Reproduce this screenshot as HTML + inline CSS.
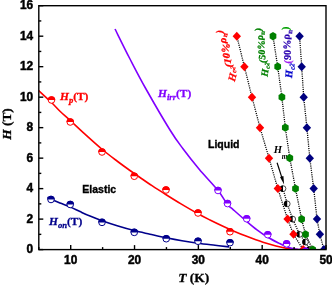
<!DOCTYPE html><html><head><meta charset="utf-8"><style>html,body{margin:0;padding:0;background:#fff}svg{display:block}text{font-family:"Liberation Sans",sans-serif}.s{font-family:"Liberation Serif",serif;font-weight:bold}</style></head><body>
<svg width="332" height="285" viewBox="0 0 332 285">
<rect width="332" height="285" fill="#fff"/>
<defs><clipPath id="cp"><rect x="38.8" y="5.7" width="287.2" height="243.9"/></clipPath></defs>
<g clip-path="url(#cp)">
<text class="s" style="will-change:transform" x="273.8" y="153.2" font-size="10.6" fill="#000"><tspan font-style="italic">H</tspan><tspan font-style="italic" font-size="7.2" dx="-0.4" dy="5.5">m</tspan></text>
<polyline points="283.0,188.6 287.2,203.9 292.7,219.1 299.6,234.4 305.5,242.0 309.5,249.6" fill="none" stroke="#000" stroke-width="1.3" stroke-dasharray="1.1,1.1"/>
<circle cx="283.00" cy="188.62" r="2.90" fill="#fff" stroke="#000" stroke-width="0.7"/><path d="M283.00,185.38 A3.25,3.25 0 0 0 283.00,191.88 Z" fill="#000"/>
<circle cx="287.20" cy="203.87" r="2.90" fill="#fff" stroke="#000" stroke-width="0.7"/><path d="M287.20,200.62 A3.25,3.25 0 0 0 287.20,207.12 Z" fill="#000"/>
<circle cx="292.70" cy="219.11" r="2.90" fill="#fff" stroke="#000" stroke-width="0.7"/><path d="M292.70,215.86 A3.25,3.25 0 0 0 292.70,222.36 Z" fill="#000"/>
<circle cx="299.60" cy="234.36" r="2.90" fill="#fff" stroke="#000" stroke-width="0.7"/><path d="M299.60,231.11 A3.25,3.25 0 0 0 299.60,237.61 Z" fill="#000"/>
<circle cx="305.50" cy="241.98" r="2.90" fill="#fff" stroke="#000" stroke-width="0.7"/><path d="M305.50,238.73 A3.25,3.25 0 0 0 305.50,245.23 Z" fill="#000"/>
<circle cx="309.50" cy="249.60" r="2.90" fill="#fff" stroke="#000" stroke-width="0.7"/><path d="M309.50,246.35 A3.25,3.25 0 0 0 309.50,252.85 Z" fill="#000"/>
<polyline points="236.8,36.2 244.4,66.7 252.0,97.2 260.0,127.6 269.0,158.1 277.8,188.6 287.6,219.1 293.5,234.4 303.2,249.6" fill="none" stroke="#000" stroke-width="1.3" stroke-dasharray="1.1,1.1"/>
<path d="M236.80,31.69 L241.00,36.19 L236.80,40.69 L232.60,36.19 Z" fill="#ff0000"/>
<path d="M244.40,62.17 L248.60,66.67 L244.40,71.17 L240.20,66.67 Z" fill="#ff0000"/>
<path d="M252.00,92.66 L256.20,97.16 L252.00,101.66 L247.80,97.16 Z" fill="#ff0000"/>
<path d="M260.00,123.15 L264.20,127.65 L260.00,132.15 L255.80,127.65 Z" fill="#ff0000"/>
<path d="M269.00,153.64 L273.20,158.14 L269.00,162.64 L264.80,158.14 Z" fill="#ff0000"/>
<path d="M277.80,184.12 L282.00,188.62 L277.80,193.12 L273.60,188.62 Z" fill="#ff0000"/>
<path d="M287.60,214.61 L291.80,219.11 L287.60,223.61 L283.40,219.11 Z" fill="#ff0000"/>
<path d="M293.50,229.86 L297.70,234.36 L293.50,238.86 L289.30,234.36 Z" fill="#ff0000"/>
<path d="M303.20,245.10 L307.40,249.60 L303.20,254.10 L299.00,249.60 Z" fill="#ff0000"/>
<polyline points="273.0,36.2 277.7,66.7 281.9,97.2 285.3,127.6 289.8,158.1 295.5,188.6 301.6,219.1 305.5,234.4 312.7,249.6" fill="none" stroke="#000" stroke-width="1.3" stroke-dasharray="1.1,1.1"/>
<polygon points="273.00,31.99 269.65,34.09 269.65,38.29 273.00,40.39 276.35,38.29 276.35,34.09" fill="#008000"/>
<polygon points="277.70,62.47 274.35,64.57 274.35,68.77 277.70,70.87 281.05,68.77 281.05,64.57" fill="#008000"/>
<polygon points="281.90,92.96 278.55,95.06 278.55,99.26 281.90,101.36 285.25,99.26 285.25,95.06" fill="#008000"/>
<polygon points="285.30,123.45 281.95,125.55 281.95,129.75 285.30,131.85 288.65,129.75 288.65,125.55" fill="#008000"/>
<polygon points="289.80,153.94 286.45,156.04 286.45,160.24 289.80,162.34 293.15,160.24 293.15,156.04" fill="#008000"/>
<polygon points="295.50,184.43 292.15,186.53 292.15,190.72 295.50,192.82 298.85,190.72 298.85,186.53" fill="#008000"/>
<polygon points="301.60,214.91 298.25,217.01 298.25,221.21 301.60,223.31 304.95,221.21 304.95,217.01" fill="#008000"/>
<polygon points="305.50,230.16 302.15,232.26 302.15,236.46 305.50,238.56 308.85,236.46 308.85,232.26" fill="#008000"/>
<polygon points="312.70,245.40 309.35,247.50 309.35,251.70 312.70,253.80 316.05,251.70 316.05,247.50" fill="#008000"/>
<polyline points="299.6,36.2 301.7,66.7 303.7,97.2 306.9,127.6 309.8,158.1 313.7,188.6 317.0,219.1 319.9,234.4 323.9,249.6" fill="none" stroke="#000" stroke-width="1.3" stroke-dasharray="1.1,1.1"/>
<path d="M299.60,31.69 L303.80,36.19 L299.60,40.69 L295.40,36.19 Z" fill="#000080"/>
<path d="M301.70,62.17 L305.90,66.67 L301.70,71.17 L297.50,66.67 Z" fill="#000080"/>
<path d="M303.70,92.66 L307.90,97.16 L303.70,101.66 L299.50,97.16 Z" fill="#000080"/>
<path d="M306.90,123.15 L311.10,127.65 L306.90,132.15 L302.70,127.65 Z" fill="#000080"/>
<path d="M309.80,153.64 L314.00,158.14 L309.80,162.64 L305.60,158.14 Z" fill="#000080"/>
<path d="M313.70,184.12 L317.90,188.62 L313.70,193.12 L309.50,188.62 Z" fill="#000080"/>
<path d="M317.00,214.61 L321.20,219.11 L317.00,223.61 L312.80,219.11 Z" fill="#000080"/>
<path d="M319.90,229.86 L324.10,234.36 L319.90,238.86 L315.70,234.36 Z" fill="#000080"/>
<path d="M323.90,245.10 L328.10,249.60 L323.90,254.10 L319.70,249.60 Z" fill="#000080"/>
<path d="M47.50,197.30 C48.08,197.63 48.92,198.35 51.00,199.30 C53.08,200.25 56.79,201.72 60.00,203.00 C63.21,204.28 66.92,205.57 70.25,207.00 C73.58,208.43 76.71,210.08 80.00,211.60 C83.29,213.12 86.33,214.57 90.00,216.10 C93.67,217.62 97.33,219.10 102.00,220.75 C106.67,222.40 112.62,224.36 118.00,226.00 C123.38,227.64 128.92,229.23 134.25,230.60 C139.58,231.97 144.67,233.00 150.00,234.20 C155.33,235.40 160.92,236.70 166.25,237.80 C171.58,238.90 176.71,239.89 182.00,240.80 C187.29,241.71 192.50,242.50 198.00,243.25 C203.50,244.00 209.83,244.69 215.00,245.30 C220.17,245.91 226.67,246.63 229.00,246.90" fill="none" stroke="#00008b" stroke-width="1.6"/>
<circle cx="51.00" cy="199.50" r="3.30" fill="#fff" stroke="#00008b" stroke-width="1"/><path d="M47.20,199.50 A3.80,3.80 0 0 1 54.80,199.50 Z" fill="#00008b"/>
<circle cx="70.25" cy="204.50" r="3.30" fill="#fff" stroke="#00008b" stroke-width="1"/><path d="M66.45,204.50 A3.80,3.80 0 0 1 74.05,204.50 Z" fill="#00008b"/>
<circle cx="102.00" cy="222.40" r="3.30" fill="#fff" stroke="#00008b" stroke-width="1"/><path d="M98.20,222.40 A3.80,3.80 0 0 1 105.80,222.40 Z" fill="#00008b"/>
<circle cx="134.25" cy="232.40" r="3.30" fill="#fff" stroke="#00008b" stroke-width="1"/><path d="M130.45,232.40 A3.80,3.80 0 0 1 138.05,232.40 Z" fill="#00008b"/>
<circle cx="166.25" cy="238.75" r="3.30" fill="#fff" stroke="#00008b" stroke-width="1"/><path d="M162.45,238.75 A3.80,3.80 0 0 1 170.05,238.75 Z" fill="#00008b"/>
<circle cx="198.00" cy="241.25" r="3.30" fill="#fff" stroke="#00008b" stroke-width="1"/><path d="M194.20,241.25 A3.80,3.80 0 0 1 201.80,241.25 Z" fill="#00008b"/>
<circle cx="230.00" cy="242.70" r="3.30" fill="#fff" stroke="#00008b" stroke-width="1"/><path d="M226.20,242.70 A3.80,3.80 0 0 1 233.80,242.70 Z" fill="#00008b"/>
<path d="M38.00,90.00 C40.25,92.08 47.83,98.96 51.50,102.50 C55.17,106.04 56.92,108.29 60.00,111.25 C63.08,114.21 65.83,116.42 70.00,120.25 C74.17,124.08 79.67,129.37 85.00,134.20 C90.33,139.03 96.67,144.78 102.00,149.25 C107.33,153.72 112.33,157.46 117.00,161.00 C121.67,164.54 126.17,167.75 130.00,170.50 C133.83,173.25 136.33,174.97 140.00,177.50 C143.67,180.03 147.71,182.87 152.00,185.70 C156.29,188.53 160.92,191.47 165.75,194.50 C170.58,197.53 175.62,200.69 181.00,203.90 C186.38,207.11 193.17,211.07 198.00,213.75 C202.83,216.43 205.83,217.92 210.00,220.00 C214.17,222.08 219.00,224.38 223.00,226.25 C227.00,228.12 230.17,229.56 234.00,231.20 C237.83,232.84 241.17,234.25 246.00,236.10 C250.83,237.95 258.00,240.65 263.00,242.30 C268.00,243.95 271.83,244.95 276.00,246.00 C280.17,247.05 284.33,248.00 288.00,248.60 C291.67,249.20 296.33,249.43 298.00,249.60" fill="none" stroke="#ff0000" stroke-width="1.6"/>
<circle cx="51.50" cy="100.00" r="3.30" fill="#fff" stroke="#ff0000" stroke-width="1"/><path d="M47.70,100.00 A3.80,3.80 0 0 1 55.30,100.00 Z" fill="#ff0000"/>
<circle cx="70.25" cy="122.00" r="3.30" fill="#fff" stroke="#ff0000" stroke-width="1"/><path d="M66.45,122.00 A3.80,3.80 0 0 1 74.05,122.00 Z" fill="#ff0000"/>
<circle cx="102.00" cy="152.00" r="3.30" fill="#fff" stroke="#ff0000" stroke-width="1"/><path d="M98.20,152.00 A3.80,3.80 0 0 1 105.80,152.00 Z" fill="#ff0000"/>
<circle cx="134.25" cy="176.25" r="3.30" fill="#fff" stroke="#ff0000" stroke-width="1"/><path d="M130.45,176.25 A3.80,3.80 0 0 1 138.05,176.25 Z" fill="#ff0000"/>
<circle cx="166.00" cy="190.00" r="3.30" fill="#fff" stroke="#ff0000" stroke-width="1"/><path d="M162.20,190.00 A3.80,3.80 0 0 1 169.80,190.00 Z" fill="#ff0000"/>
<circle cx="198.00" cy="213.00" r="3.30" fill="#fff" stroke="#ff0000" stroke-width="1"/><path d="M194.20,213.00 A3.80,3.80 0 0 1 201.80,213.00 Z" fill="#ff0000"/>
<circle cx="230.00" cy="231.75" r="3.30" fill="#fff" stroke="#ff0000" stroke-width="1"/><path d="M226.20,231.75 A3.80,3.80 0 0 1 233.80,231.75 Z" fill="#ff0000"/>
<path d="M115.00,29.00 C117.50,34.00 124.88,49.08 130.00,59.00 C135.12,68.92 139.03,76.67 145.70,88.50 C152.37,100.33 163.78,119.96 170.00,130.00 C176.22,140.04 178.17,142.25 183.00,148.75 C187.83,155.25 193.17,162.04 199.00,169.00 C204.83,175.96 213.25,184.58 218.00,190.50 C222.75,196.42 224.93,201.28 227.50,204.50 C230.07,207.72 230.20,206.98 233.40,209.80 C236.60,212.62 242.77,218.07 246.70,221.40 C250.63,224.73 253.48,227.17 257.00,229.80 C260.52,232.43 264.17,234.98 267.80,237.20 C271.43,239.42 275.67,241.52 278.80,243.10 C281.93,244.68 283.90,245.72 286.60,246.70 C289.30,247.68 292.60,248.52 295.00,249.00 C297.40,249.48 300.00,249.50 301.00,249.60" fill="none" stroke="#8000ff" stroke-width="1.6"/>
<circle cx="218.00" cy="190.50" r="3.30" fill="#fff" stroke="#8000ff" stroke-width="1"/><path d="M214.20,190.50 A3.80,3.80 0 0 1 221.80,190.50 Z" fill="#8000ff"/>
<circle cx="227.50" cy="203.60" r="3.30" fill="#fff" stroke="#8000ff" stroke-width="1"/><path d="M223.70,203.60 A3.80,3.80 0 0 1 231.30,203.60 Z" fill="#8000ff"/>
<circle cx="246.70" cy="218.80" r="3.30" fill="#fff" stroke="#8000ff" stroke-width="1"/><path d="M242.90,218.80 A3.80,3.80 0 0 1 250.50,218.80 Z" fill="#8000ff"/>
<circle cx="267.80" cy="234.70" r="3.30" fill="#fff" stroke="#8000ff" stroke-width="1"/><path d="M264.00,234.70 A3.80,3.80 0 0 1 271.60,234.70 Z" fill="#8000ff"/>
<circle cx="286.60" cy="243.90" r="3.30" fill="#fff" stroke="#8000ff" stroke-width="1"/><path d="M282.80,243.90 A3.80,3.80 0 0 1 290.40,243.90 Z" fill="#8000ff"/>
<circle cx="305.60" cy="251.20" r="3.30" fill="#fff" stroke="#8000ff" stroke-width="1"/><path d="M301.80,251.20 A3.80,3.80 0 0 1 309.40,251.20 Z" fill="#8000ff"/>
</g>
<rect x="38.8" y="5.7" width="287.2" height="243.9" fill="none" stroke="#000" stroke-width="1.4"/>
<line x1="38.8" y1="249.60" x2="43.3" y2="249.60" stroke="#000" stroke-width="1.4"/>
<line x1="38.8" y1="234.36" x2="41.3" y2="234.36" stroke="#000" stroke-width="1.4"/>
<line x1="38.8" y1="219.11" x2="43.3" y2="219.11" stroke="#000" stroke-width="1.4"/>
<line x1="38.8" y1="203.87" x2="41.3" y2="203.87" stroke="#000" stroke-width="1.4"/>
<line x1="38.8" y1="188.62" x2="43.3" y2="188.62" stroke="#000" stroke-width="1.4"/>
<line x1="38.8" y1="173.38" x2="41.3" y2="173.38" stroke="#000" stroke-width="1.4"/>
<line x1="38.8" y1="158.14" x2="43.3" y2="158.14" stroke="#000" stroke-width="1.4"/>
<line x1="38.8" y1="142.89" x2="41.3" y2="142.89" stroke="#000" stroke-width="1.4"/>
<line x1="38.8" y1="127.65" x2="43.3" y2="127.65" stroke="#000" stroke-width="1.4"/>
<line x1="38.8" y1="112.41" x2="41.3" y2="112.41" stroke="#000" stroke-width="1.4"/>
<line x1="38.8" y1="97.16" x2="43.3" y2="97.16" stroke="#000" stroke-width="1.4"/>
<line x1="38.8" y1="81.92" x2="41.3" y2="81.92" stroke="#000" stroke-width="1.4"/>
<line x1="38.8" y1="66.67" x2="43.3" y2="66.67" stroke="#000" stroke-width="1.4"/>
<line x1="38.8" y1="51.43" x2="41.3" y2="51.43" stroke="#000" stroke-width="1.4"/>
<line x1="38.8" y1="36.19" x2="43.3" y2="36.19" stroke="#000" stroke-width="1.4"/>
<line x1="38.8" y1="20.94" x2="41.3" y2="20.94" stroke="#000" stroke-width="1.4"/>
<line x1="38.8" y1="5.70" x2="43.3" y2="5.70" stroke="#000" stroke-width="1.4"/>
<line x1="38.80" y1="249.6" x2="38.80" y2="247.1" stroke="#000" stroke-width="1.4"/>
<line x1="70.71" y1="249.6" x2="70.71" y2="245.1" stroke="#000" stroke-width="1.4"/>
<line x1="102.62" y1="249.6" x2="102.62" y2="247.1" stroke="#000" stroke-width="1.4"/>
<line x1="134.53" y1="249.6" x2="134.53" y2="245.1" stroke="#000" stroke-width="1.4"/>
<line x1="166.44" y1="249.6" x2="166.44" y2="247.1" stroke="#000" stroke-width="1.4"/>
<line x1="198.36" y1="249.6" x2="198.36" y2="245.1" stroke="#000" stroke-width="1.4"/>
<line x1="230.27" y1="249.6" x2="230.27" y2="247.1" stroke="#000" stroke-width="1.4"/>
<line x1="262.18" y1="249.6" x2="262.18" y2="245.1" stroke="#000" stroke-width="1.4"/>
<line x1="294.09" y1="249.6" x2="294.09" y2="247.1" stroke="#000" stroke-width="1.4"/>
<line x1="326.00" y1="249.6" x2="326.00" y2="245.1" stroke="#000" stroke-width="1.4"/>
<g style="will-change:transform">
<text x="33.2" y="253.10" text-anchor="end" font-size="11.9" font-weight="bold" stroke="#000" stroke-width="0.45">0</text>
<text x="33.2" y="222.61" text-anchor="end" font-size="11.9" font-weight="bold" stroke="#000" stroke-width="0.45">2</text>
<text x="33.2" y="192.12" text-anchor="end" font-size="11.9" font-weight="bold" stroke="#000" stroke-width="0.45">4</text>
<text x="33.2" y="161.64" text-anchor="end" font-size="11.9" font-weight="bold" stroke="#000" stroke-width="0.45">6</text>
<text x="33.2" y="131.15" text-anchor="end" font-size="11.9" font-weight="bold" stroke="#000" stroke-width="0.45">8</text>
<text x="33.2" y="100.66" text-anchor="end" font-size="11.9" font-weight="bold" stroke="#000" stroke-width="0.45">10</text>
<text x="33.2" y="70.17" text-anchor="end" font-size="11.9" font-weight="bold" stroke="#000" stroke-width="0.45">12</text>
<text x="33.2" y="39.69" text-anchor="end" font-size="11.9" font-weight="bold" stroke="#000" stroke-width="0.45">14</text>
<text x="33.2" y="9.20" text-anchor="end" font-size="11.9" font-weight="bold" stroke="#000" stroke-width="0.45">16</text>
<text x="70.71" y="263.8" text-anchor="middle" font-size="11.9" font-weight="bold" stroke="#000" stroke-width="0.45">10</text>
<text x="134.53" y="263.8" text-anchor="middle" font-size="11.9" font-weight="bold" stroke="#000" stroke-width="0.45">20</text>
<text x="198.36" y="263.8" text-anchor="middle" font-size="11.9" font-weight="bold" stroke="#000" stroke-width="0.45">30</text>
<text x="262.18" y="263.8" text-anchor="middle" font-size="11.9" font-weight="bold" stroke="#000" stroke-width="0.45">40</text>
<text x="326.00" y="263.8" text-anchor="middle" font-size="11.9" font-weight="bold" stroke="#000" stroke-width="0.45">50</text>
<text class="s" x="178.2" y="281.9" font-size="13.5" stroke="#000" stroke-width="0.3"><tspan font-style="italic">T</tspan> (K)</text>
<text class="s" transform="translate(10.7,124) rotate(-90)" text-anchor="middle" font-size="13.3" stroke="#000" stroke-width="0.3"><tspan font-style="italic">H</tspan> (T)</text>
<text x="82.3" y="193" font-size="10.5" font-weight="bold" stroke="#000" stroke-width="0.35">Elastic</text>
<text x="208" y="147.5" font-size="10.5" font-weight="bold" stroke="#000" stroke-width="0.35">Liquid</text>
<text class="s" x="60" y="100" font-size="11.4" fill="#ff0000" stroke="#ff0000" stroke-width="0.3"><tspan font-style="italic">H</tspan><tspan font-style="italic" font-size="8.664" dy="3">p</tspan><tspan dy="-3">(T)</tspan></text>
<text class="s" x="49" y="224.5" font-size="11.4" fill="#00008b" stroke="#00008b" stroke-width="0.3"><tspan font-style="italic">H</tspan><tspan font-style="italic" font-size="8.664" dy="3">on</tspan><tspan dy="-3">(T)</tspan></text>
<text class="s" x="158" y="97" font-size="11.4" fill="#8000ff" stroke="#8000ff" stroke-width="0.3"><tspan font-style="italic">H</tspan><tspan font-style="italic" font-size="8.664" dy="3">irr</tspan><tspan dy="-3">(T)</tspan></text>
<text class="s" transform="translate(234.7,82) rotate(-104) scale(1,1)" rotate="28" font-size="10.5" stroke-width="0.25" fill="#ff0000" stroke="#ff0000"><tspan font-style="italic">H</tspan><tspan font-style="italic" font-size="7.14" dy="3">c2</tspan><tspan dy="-3" fill="#ff0000" stroke="#ff0000">(</tspan><tspan fill="#ff0000" stroke="#ff0000">10%ρ</tspan><tspan font-size="7.14" dy="3" fill="#ff0000" stroke="#ff0000">n</tspan><tspan dy="-3" fill="#ff0000" stroke="#ff0000">)</tspan></text>
<text class="s" transform="translate(267.5,77) rotate(-98) scale(1,1)" rotate="16" font-size="9.8" stroke-width="0.25" fill="#008000" stroke="#008000"><tspan font-style="italic">H</tspan><tspan font-style="italic" font-size="6.664" dy="3">c2</tspan><tspan dy="-3" fill="#008000" stroke="#008000">(</tspan><tspan fill="#008000" stroke="#008000">50%ρ</tspan><tspan font-size="6.664" dy="3" fill="#008000" stroke="#008000">n</tspan><tspan dy="-3" fill="#008000" stroke="#008000">)</tspan></text>
<text class="s" transform="translate(292,78.3) rotate(-94) scale(1,1)" rotate="8" font-size="10.3" stroke-width="0.25" fill="#0000cc" stroke="#0000cc"><tspan font-style="italic">H</tspan><tspan font-style="italic" font-size="7.004" dy="3">c2</tspan><tspan dy="-3" fill="#a020f0" stroke="#a020f0">(</tspan><tspan fill="#2a00b0" stroke="#2a00b0">90%ρ</tspan><tspan font-size="7.004" dy="3" fill="#2a00b0" stroke="#2a00b0">n</tspan><tspan dy="-3" fill="#00a000" stroke="#00a000">)</tspan></text>
<line x1="277.1" y1="162.8" x2="282.2" y2="178.6" stroke="#000" stroke-width="1.2"/>
<path d="M284.1,184.6 L280.0,177.0 L283.4,175.9 Z" fill="#000"/>
</g>
</svg></body></html>
